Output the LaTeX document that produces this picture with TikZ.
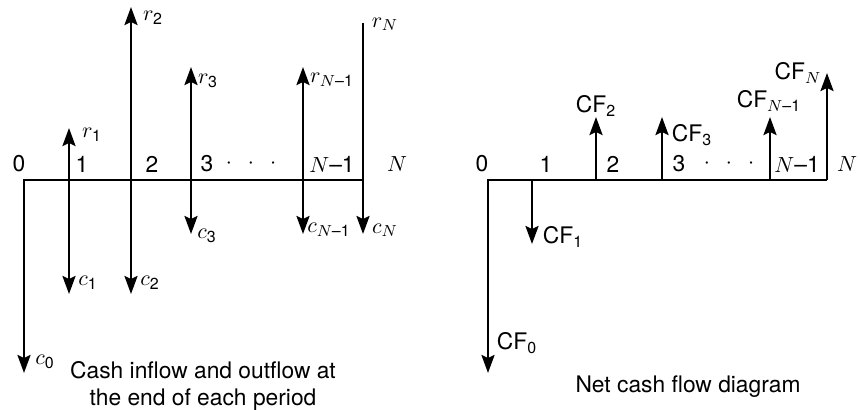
\documentclass[tikz,border=0pt]{standalone}
\usepackage{amsmath}
\usepackage{fontspec}
\setmainfont{TeX Gyre Heros}
\usetikzlibrary{arrows.meta}
\tikzset{
  flow/.style={line width=1.2pt, -{Stealth[length=9pt,width=6.5pt,inset=1.5pt]}},
  axisline/.style={line width=1.2pt},
  lbl/.style={inner sep=0pt, font=\fontsize{11.4}{13.6}\selectfont},
}
\begin{document}
\begin{tikzpicture}[x=0.5pt, y=-0.5pt]
    \useasboundingbox (0,0) rectangle (860,409);

    % Inflow and outflow
    \coordinate (L0) at (24,180);
    \coordinate (L1) at (69,180);
    \coordinate (L2) at (131,180);
    \coordinate (L3) at (191,180);
    \coordinate (Lm) at (303,180);
    \coordinate (LN) at (363,180);
    \coordinate (r1) at (69,128);
    \coordinate (r2) at (131,7);
    \coordinate (r3) at (191,67);
    \coordinate (rm) at (303,67);
    \coordinate (rN) at (363,23);
    \coordinate (c0) at (24,373);
    \coordinate (c1) at (69,294);
    \coordinate (c2) at (131,294);
    \coordinate (c3) at (191,234);
    \coordinate (cm) at (303,234);
    \coordinate (cN) at (363,234);

    \draw[flow] (LN) -- (L0) -- (c0);
    \draw[flow] (L1) -- (r1);
    \draw[flow] (L1) -- (c1);
    \draw[flow] (L2) -- (r2);
    \draw[flow] (L2) -- (c2);
    \draw[flow] (L3) -- (r3);
    \draw[flow] (L3) -- (c3);
    \draw[flow] (Lm) -- (rm);
    \draw[flow] (Lm) -- (cm);
    \draw[flow] (rN) -- (cN);

    \node[lbl] (r1lab) at (92,135) {$r_{\text{1}}$};
    \node[lbl] (r2lab) at (153,18) {$r_{\text{2}}$};
    \node[lbl] (r3lab) at (208,81) {$r_{\text{3}}$};
    \node[lbl] (rmlab) at (332,80) {$r_{N\text{--1}}$};
    \node[lbl] (rNlab) at (385,24) {$r_N$};
    \node[lbl] (c0lab) at (45,362) {$c_{\text{0}}$};
    \node[lbl] (c1lab) at (88,283) {$c_{\text{1}}$};
    \node[lbl] (c2lab) at (150,283) {$c_{\text{2}}$};
    \node[lbl] (c3lab) at (207,236) {$c_{\text{3}}$};
    \node[lbl] (cmlab) at (329,230) {$c_{N\text{--1}}$};
    \node[lbl] (cNlab) at (385,230) {$c_N$};

    \foreach \x/\t [count=\i] in {19/0, 82/1, 152/2, 207/3, 251/{$\cdot$\hspace{8pt}$\cdot$\hspace{8pt}$\cdot$}, 332/{$N$--1}, 397/{$N$}}
        \node[lbl] (lt\i) at (\x,164) {\t};

    \node[lbl, align=center] (lcap) at (203,386) {Cash inflow and outflow at\\the end of each period};

    % Net cash flow
    \coordinate (R0) at (488,180);
    \coordinate (R1) at (532,180);
    \coordinate (R2) at (596,180);
    \coordinate (R3) at (662,180);
    \coordinate (Rm) at (770,180);
    \coordinate (RN) at (827,180);
    \coordinate (CF0) at (488,373);
    \coordinate (CF1) at (532,244);
    \coordinate (CF2) at (596,117);
    \coordinate (CF3) at (662,117);
    \coordinate (CFm) at (770,117);
    \coordinate (CFN) at (827,73);

    \draw[flow] (RN) -- (R0) -- (CF0);
    \draw[flow] (R1) -- (CF1);
    \draw[flow] (R2) -- (CF2);
    \draw[flow] (R3) -- (CF3);
    \draw[flow] (Rm) -- (CFm);
    \draw[flow] (RN) -- (CFN);

    \node[lbl] (CF0lab) at (517,343) {CF$_{\text{0}}$};
    \node[lbl] (CF1lab) at (563,237) {CF$_{\text{1}}$};
    \node[lbl] (CF2lab) at (596,106) {CF$_{\text{2}}$};
    \node[lbl] (CF3lab) at (692,135) {CF$_{\text{3}}$};
    \node[lbl] (CFmlab) at (769,101) {CF$_{N\text{--1}}$};
    \node[lbl] (CFNlab) at (798,73) {CF$_N$};

    \foreach \x/\t [count=\i] in {482/0, 546/1, 613/2, 679/3, 729/{$\cdot$\hspace{8pt}$\cdot$\hspace{8pt}$\cdot$}, 797/{$N$--1}, 847/{$N$}}
        \node[lbl] (rt\i) at (\x,164) {\t};

    \node[lbl] (rcap) at (688,387) {Net cash flow diagram};
\end{tikzpicture}
\end{document}
